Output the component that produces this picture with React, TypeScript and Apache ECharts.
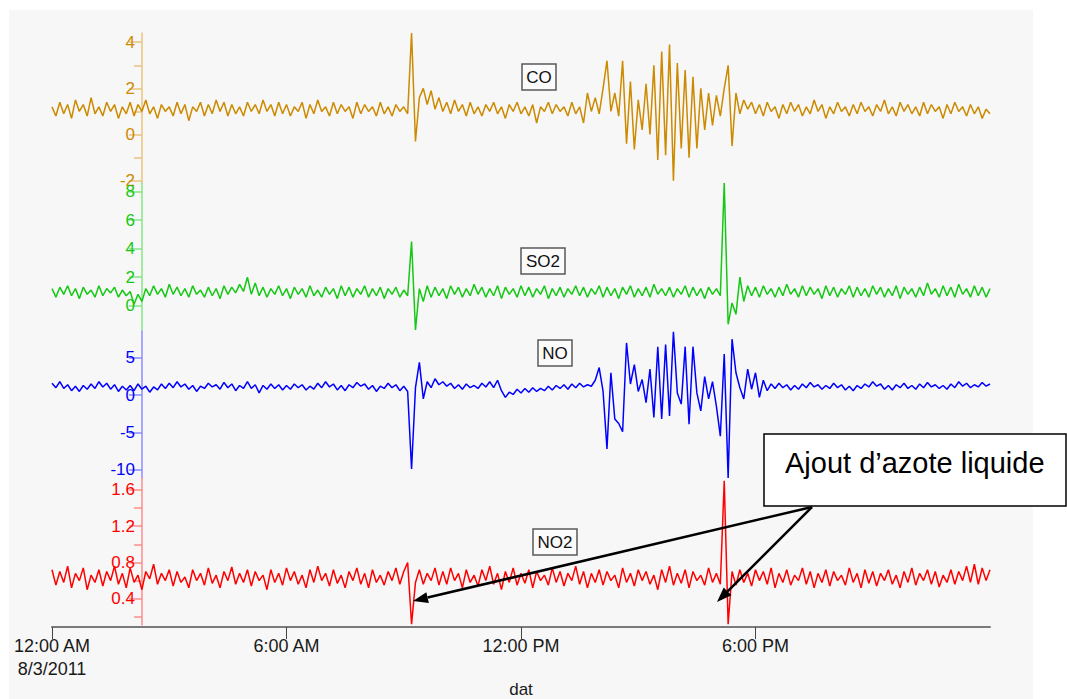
import React, { useEffect, useRef } from "react";
import * as echarts from "echarts";

// Sampling step of the recorded series, in hours (0:00 -> 24:00 on 8/3/2011)
const STEP_H = 0.1;

const CO = [
  1.2, 0.8, 1.4, 0.9, 1.3, 0.7, 1.5, 1.0, 1.3, 0.8,
  1.6, 0.9, 1.2, 0.8, 1.4, 1.0, 1.3, 0.7, 1.2, 0.9,
  1.4, 0.8, 1.3, 1.0, 1.5, 0.9, 1.2, 0.7, 1.3, 1.0,
  1.2, 0.8, 1.4, 0.9, 1.3, 0.6, 1.2, 1.0, 1.4, 0.8,
  1.3, 0.9, 1.5, 1.0, 1.4, 0.8, 1.3, 0.9, 1.2, 0.8,
  1.4, 1.0, 1.3, 0.9, 1.5, 1.0, 1.3, 0.8, 1.4, 0.9,
  1.3, 0.8, 1.2, 1.0, 1.4, 0.7, 1.3, 0.9, 1.5, 1.0,
  1.2, 0.8, 1.4, 0.9, 1.3, 1.0, 1.2, 0.7, 1.4, 0.9,
  1.3, 1.0, 1.2, 0.8, 1.4, 0.9, 1.2, 0.8, 1.3, 1.0,
  1.2, 0.9, 4.4, -0.3, 1.6, 2.0, 1.3, 1.9, 1.1, 1.6,
  1.0, 1.4, 0.9, 1.5, 1.0, 1.3, 0.8, 1.4, 0.9, 1.2,
  0.8, 1.3, 1.0, 1.4, 0.9, 1.2, 0.7, 1.3, 1.0, 1.4,
  0.9, 1.2, 0.8, 1.3, 0.5, 1.2, 1.0, 1.4, 0.9, 1.3,
  1.0, 1.2, 0.8, 1.4, 0.9, 1.2, 0.5, 1.8, 1.0, 1.6,
  0.9, 2.0, 3.2, 1.0, 1.8, 0.8, 3.2, -0.4, 2.3, -0.65,
  1.5, 0.2, 2.2, 0.0, 3.0, -1.1, 3.6, -0.9, 3.9, -2.0,
  3.1, -0.6, 2.8, -1.0, 2.5, -0.6, 2.0, 0.2, 1.8, 0.4,
  1.7, 0.8, 2.0, 3.0, -0.5, 1.8, 0.9, 1.5, 1.1, 1.4,
  0.9, 1.3, 0.8, 1.4, 1.0, 1.2, 0.7, 1.3, 0.9, 1.4,
  1.0, 1.3, 0.8, 1.2, 0.9, 1.5, 1.0, 1.3, 0.7, 1.2,
  0.9, 1.4, 1.0, 1.2, 0.8, 1.3, 0.9, 1.4, 1.0, 1.2,
  0.8, 1.3, 1.0, 1.5, 0.9, 1.2, 0.8, 1.4, 1.0, 1.3,
  0.9, 1.2, 0.8, 1.4, 0.9, 1.3, 1.0, 1.2, 0.7, 1.3,
  0.9, 1.4, 1.0, 1.2, 0.8, 1.3, 0.9, 1.2, 0.7, 1.1,
  0.9,
];

const SO2 = [
  1.2, 0.6, 1.3, 0.8, 1.4, 0.7, 1.2, 0.5, 1.3, 0.8,
  1.1, 0.6, 1.4, 0.7, 1.2, 0.9, 1.3, 0.6, 1.1, 0.7,
  1.0, 0.1, 0.8, 0.3, 1.2, 0.7, 1.4, 0.8, 1.2, 0.6,
  1.5, 0.8, 1.3, 0.7, 1.2, 0.6, 1.4, 0.8, 1.1, 0.6,
  1.3, 0.7, 1.2, 0.5, 1.4, 0.8, 1.3, 0.9, 1.5, 1.0,
  2.0, 0.8, 1.6, 0.7, 1.3, 0.6, 1.2, 0.8, 1.4, 0.7,
  1.2, 0.5, 1.3, 0.8, 1.2, 0.6, 1.4, 0.7, 1.1, 0.6,
  1.3, 0.8, 1.2, 0.5, 1.4, 0.7, 1.3, 0.6, 1.2, 0.8,
  1.4, 0.6, 1.2, 0.7, 1.3, 0.5, 1.2, 0.8, 1.3, 0.6,
  1.1, 0.7, 4.5, -1.7, 1.2, 0.3, 1.4, 0.6, 1.3, 0.7,
  1.2, 0.5, 1.4, 0.8, 1.3, 0.6, 1.2, 0.7, 1.5, 0.8,
  1.3, 0.6, 1.2, 0.7, 1.4, 0.5, 1.3, 0.8, 1.2, 0.6,
  1.4, 0.7, 1.3, 0.6, 1.2, 0.8, 1.4, 0.5, 1.2, 0.7,
  1.3, 0.6, 1.2, 0.8, 1.4, 0.7, 1.3, 0.6, 1.2, 0.8,
  1.4, 0.6, 1.3, 0.7, 1.2, 0.5, 1.3, 0.8, 1.4, 0.6,
  1.2, 0.7, 1.3, 0.6, 1.5, 0.8, 1.2, 0.7, 1.3, 0.6,
  1.2, 0.8, 1.4, 0.6, 1.3, 0.7, 1.2, 0.5, 1.3, 0.8,
  1.2, 0.7, 8.6, -1.3, 0.2, -0.6, 2.0, 0.3, 1.4, 0.7,
  1.3, 0.6, 1.4, 0.8, 1.2, 0.6, 1.3, 0.7, 1.5, 0.8,
  1.2, 0.6, 1.4, 0.7, 1.3, 0.8, 1.2, 0.5, 1.4, 0.7,
  1.3, 0.6, 1.2, 0.8, 1.4, 0.6, 1.3, 0.7, 1.2, 0.6,
  1.4, 0.8, 1.3, 0.6, 1.2, 0.7, 1.4, 0.5, 1.3, 0.8,
  1.2, 0.6, 1.3, 0.7, 1.6, 0.8, 1.2, 0.6, 1.4, 0.7,
  1.3, 0.6, 1.5, 0.8, 1.2, 0.6, 1.4, 0.7, 1.3, 0.6,
  1.2,
];

const NO = [
  1.6, 1.0, 1.8, 0.9, 1.4, 0.6, 1.2, 0.5, 1.3, 0.8,
  1.5, 0.9, 1.8, 1.1, 1.6, 0.8, 1.4, 0.5, 1.2, 0.7,
  1.3, 0.6, 1.5, 0.8, 1.2, 0.4, 1.1, 0.7, 1.5, 0.9,
  1.6, 1.0, 1.8, 1.1, 1.5, 0.8, 1.3, 0.5, 1.2, 0.9,
  1.6, 1.1, 1.4, 0.8, 1.7, 1.0, 1.5, 0.6, 1.3, 0.9,
  1.8, 0.9, 1.4, 0.3, 1.3, 0.8, 1.5, 0.9, 1.4, 0.7,
  1.3, 0.8, 1.5, 1.0, 1.4, 0.7, 1.2, 0.8, 1.6, 1.0,
  1.8, 1.1, 1.5, 0.7, 1.3, 0.6, 1.4, 1.0, 1.7, 1.2,
  1.5, 0.8, 1.3, 0.5, 1.2, 0.9, 1.6, 1.0, 1.4, 0.6,
  1.2, 0.5, -9.9, 1.0, 4.4, -0.5, 1.8, 1.0, 2.2, 1.4,
  1.8, 1.2, 1.6, 0.9, 1.4, 0.8, 1.5, 1.0, 1.3, 0.9,
  1.6, 1.1, 1.8, 1.0, 2.0, 0.6, -0.3, 0.4, 0.1, 0.8,
  0.3, 0.9, 0.4, 1.0, 0.5, 0.9, 0.6, 1.2, 0.7, 1.3,
  0.9, 1.4, 0.8, 1.5, 1.0, 1.6, 1.1, 1.4, 1.2, 2.0,
  3.7, 0.5, -7.2, 3.0, -3.2, -3.8, -4.9, 7.0, 1.5, 4.1,
  0.5, 2.1, -1.0, 3.5, -3.0, 6.5, -3.2, 6.8, -2.8, 8.5,
  0.3, -1.2, 6.5, -3.9, 6.5, 0.3, -2.1, 2.5, -0.5, 1.8,
  -1.5, -5.5, 5.5, -11.1, 7.5, 3.0, 1.0, -0.5, 3.5, 0.8,
  3.0, -0.3, 2.0, 0.6, 1.5, 0.9, 1.6, 1.0, 1.4, 0.7,
  1.3, 0.8, 1.5, 1.0, 1.7, 1.1, 1.4, 0.8, 1.3, 0.9,
  1.6, 1.0, 1.4, 0.7, 1.2, 0.6, 1.3, 0.9, 1.5, 1.1,
  1.8, 1.2, 1.5, 0.8, 1.3, 0.7, 1.4, 1.0, 1.6, 0.9,
  1.3, 0.8, 1.5, 1.0, 1.7, 1.1, 1.4, 0.9, 1.3, 0.8,
  1.5, 1.0, 1.8, 1.2, 1.6, 1.0, 1.4, 1.1, 1.7, 1.2,
  1.5,
];

const NO2 = [
  0.72, 0.55, 0.70, 0.58, 0.76, 0.52, 0.68, 0.60, 0.74, 0.50,
  0.66, 0.58, 0.72, 0.54, 0.70, 0.60, 0.76, 0.56, 0.68, 0.52,
  0.74, 0.58, 0.66, 0.50, 0.70, 0.62, 0.78, 0.56, 0.68, 0.60,
  0.72, 0.54, 0.70, 0.58, 0.64, 0.52, 0.72, 0.60, 0.68, 0.55,
  0.74, 0.57, 0.66, 0.52, 0.70, 0.60, 0.75, 0.56, 0.68, 0.58,
  0.72, 0.54, 0.70, 0.60, 0.66, 0.50, 0.72, 0.58, 0.68, 0.55,
  0.74, 0.60, 0.70, 0.56, 0.66, 0.52, 0.72, 0.58, 0.76, 0.60,
  0.68, 0.54, 0.72, 0.57, 0.66, 0.52, 0.70, 0.60, 0.74, 0.56,
  0.68, 0.52, 0.72, 0.58, 0.66, 0.55, 0.70, 0.60, 0.74, 0.56,
  0.70, 0.80, 0.12, 0.58, 0.72, 0.56, 0.68, 0.60, 0.74, 0.55,
  0.70, 0.56, 0.74, 0.60, 0.68, 0.52, 0.72, 0.58, 0.66, 0.54,
  0.72, 0.60, 0.76, 0.56, 0.68, 0.50, 0.70, 0.58, 0.74, 0.55,
  0.68, 0.57, 0.72, 0.52, 0.70, 0.60, 0.66, 0.55, 0.74, 0.58,
  0.70, 0.54, 0.68, 0.60, 0.76, 0.56, 0.70, 0.52, 0.68, 0.58,
  0.72, 0.55, 0.70, 0.60, 0.66, 0.52, 0.74, 0.58, 0.68, 0.54,
  0.72, 0.60, 0.70, 0.56, 0.66, 0.50, 0.72, 0.58, 0.76, 0.55,
  0.68, 0.57, 0.72, 0.52, 0.70, 0.60, 0.66, 0.55, 0.74, 0.58,
  0.68, 0.56, 1.70, 0.12, 0.70, 0.55, 0.72, 0.58, 0.68, 0.54,
  0.72, 0.60, 0.70, 0.56, 0.74, 0.52, 0.68, 0.58, 0.72, 0.55,
  0.66, 0.60, 0.74, 0.56, 0.70, 0.52, 0.68, 0.58, 0.72, 0.54,
  0.70, 0.60, 0.66, 0.55, 0.74, 0.58, 0.68, 0.52, 0.72, 0.57,
  0.70, 0.54, 0.68, 0.60, 0.72, 0.56, 0.66, 0.52, 0.70, 0.58,
  0.74, 0.55, 0.68, 0.60, 0.72, 0.56, 0.70, 0.53, 0.66, 0.58,
  0.72, 0.56, 0.70, 0.60, 0.76, 0.58, 0.78, 0.56, 0.74, 0.60,
  0.72,
];

const X_TICKS = [0, 6, 12, 18];
const X_LABELS: Record<number, string> = {
  0: "12:00 AM\n8/3/2011",
  6: "6:00 AM",
  12: "12:00 PM",
  18: "6:00 PM",
};
const X_NAME = "dat";

const CO_MAJOR = [-2, 0, 2, 4];
const CO_MINOR = [-1, 1, 3];
const SO2_MAJOR = [0, 2, 4, 6, 8];
const NO_MAJOR = [-10, -5, 0, 5];
const NO2_MAJOR = [0.4, 0.8, 1.2, 1.6];
const NO2_MINOR = [0.2, 0.6, 1.0, 1.4];

const ANNOTATION = "Ajout d\u2019azote liquide";

const FONT = 'Arial, "Liberation Sans", Helvetica, sans-serif';

const panels = [
  { name: "CO", values: CO, min: -2.1, max: 4.4, major: CO_MAJOR, minor: CO_MINOR,
    color: "#cc8a00", axisColor: "#e8c47e", top: 33, height: 150, box: [539, 77, 34] },
  { name: "SO2", values: SO2, min: -1.7, max: 8.6, major: SO2_MAJOR, minor: [] as number[],
    color: "#14c814", axisColor: "#86e486", top: 183, height: 147, box: [543, 261, 44] },
  { name: "NO", values: NO, min: -11.1, max: 8.6, major: NO_MAJOR, minor: [] as number[],
    color: "#0000ff", axisColor: "#8c8cff", top: 331, height: 147, box: [555, 353, 34] },
  { name: "NO2", values: NO2, min: 0.11, max: 1.73, major: NO2_MAJOR, minor: NO2_MINOR,
    color: "#ff0000", axisColor: "#ff8c8c", top: 478, height: 152, box: [555, 542, 44] },
];

function arrowHead(x1: number, y1: number, x2: number, y2: number, len: number, half: number) {
  const dx = x2 - x1, dy = y2 - y1;
  const d = Math.sqrt(dx * dx + dy * dy);
  const ux = dx / d, uy = dy / d;
  const bx = x2 - ux * len, by = y2 - uy * len;
  const px = -uy, py = ux;
  return [[x2, y2], [bx + px * half, by + py * half], [bx - px * half, by - py * half]];
}

export default function App() {
  const ref = useRef<HTMLDivElement>(null);

  useEffect(() => {
    if (!ref.current) return;
    const chart = echarts.init(ref.current, undefined, { renderer: "svg" });

    const grid: any[] = [];
    const xAxis: any[] = [];
    const yAxis: any[] = [];
    const series: any[] = [];
    const graphic: any[] = [
      { type: "rect", z: -10, silent: true, shape: { x: 9, y: 10, width: 1024, height: 700 },
        style: { fill: "#f7f7f7" } },
    ];

    panels.forEach((p, i) => {
      grid.push({ left: 52, right: 77, top: p.top, height: p.height, containLabel: false });
      const last = i === panels.length - 1;
      xAxis.push({
        type: "value", gridIndex: i, min: 0, max: 24, interval: 6,
        show: last,
        position: "bottom",
        offset: 2,
        axisLine: { show: true, onZero: false, lineStyle: { color: "#7a7a7a", width: 2 } },
        axisTick: { show: true, length: 12, customValues: X_TICKS, lineStyle: { color: "#444", width: 1 } },
        axisLabel: {
          show: true, customValues: X_TICKS, margin: 7, color: "#1a1a1a", fontSize: 18,
          fontFamily: FONT, lineHeight: 23,
          formatter: (v: number) => X_LABELS[v] ?? "",
        },
        splitLine: { show: false },
        name: last ? X_NAME : "",
        nameLocation: "middle",
        nameGap: 50,
        nameTextStyle: { color: "#1a1a1a", fontSize: 17, fontFamily: FONT },
      });
      yAxis.push({
        type: "value", gridIndex: i, min: p.min, max: p.max, position: "left", offset: -90,
        axisLine: { show: true, onZero: false, lineStyle: { color: p.axisColor, width: 1.5 } },
        axisTick: { show: true, length: 13, customValues: p.major, lineStyle: { color: p.axisColor, width: 1.5 } },
        axisLabel: { show: true, customValues: p.major, margin: 7, color: p.color, fontSize: 17, fontFamily: FONT },
        splitLine: { show: false },
      });
      yAxis.push({
        type: "value", gridIndex: i, min: p.min, max: p.max, position: "left", offset: -90,
        axisLine: { show: false, onZero: false },
        axisTick: { show: p.minor.length > 0, length: 8, customValues: p.minor, lineStyle: { color: p.axisColor, width: 1.5 } },
        axisLabel: { show: false },
        splitLine: { show: false },
      });
      series.push({
        type: "line", name: p.name, xAxisIndex: i, yAxisIndex: 2 * i,
        showSymbol: false, symbol: "none", z: 3,
        lineStyle: { color: p.color, width: 1.5 },
        data: p.values.map((v, k) => [Number((k * STEP_H).toFixed(2)), v]),
      });
      const [cx, cy, w] = p.box;
      graphic.push({
        type: "rect", z: 20, shape: { x: cx - w / 2, y: cy - 13, width: w, height: 26 },
        style: { fill: "#fbfbfb", stroke: "#5a5a5a", lineWidth: 1.5 },
      });
      graphic.push({
        type: "text", z: 21, x: cx, y: cy,
        style: { text: p.name, fill: "#111", fontSize: 17, fontFamily: FONT, align: "center", verticalAlign: "middle" },
      });
    });

    // annotation box and arrows
    graphic.push({
      type: "rect", z: 30, shape: { x: 764, y: 434, width: 302, height: 72 },
      style: { fill: "#ffffff", stroke: "#000", lineWidth: 1.5 },
    });
    graphic.push({
      type: "text", z: 31, x: 785, y: 463,
      style: { text: ANNOTATION, fill: "#000", fontSize: 29, fontFamily: FONT, align: "left", verticalAlign: "middle" },
    });
    const origin = [812, 507];
    const tips = [[413, 601], [717, 602]];
    tips.forEach(([tx, ty]) => {
      const head = arrowHead(origin[0], origin[1], tx, ty, 15, 5.5);
      const bx = (head[1][0] + head[2][0]) / 2, by = (head[1][1] + head[2][1]) / 2;
      graphic.push({
        type: "line", z: 30, shape: { x1: origin[0], y1: origin[1], x2: bx, y2: by },
        style: { stroke: "#000", lineWidth: 2.5 },
      });
      graphic.push({
        type: "polygon", z: 30, shape: { points: head },
        style: { fill: "#000" },
      });
    });

    chart.setOption({
      animation: false,
      backgroundColor: "#ffffff",
      grid, xAxis, yAxis, series, graphic,
    });
    return () => chart.dispose();
  }, []);

  return (
    <div
      ref={ref}
      style={{ position: "fixed", left: 0, top: 0, width: 1067, height: 699 }}
    />
  );
}
